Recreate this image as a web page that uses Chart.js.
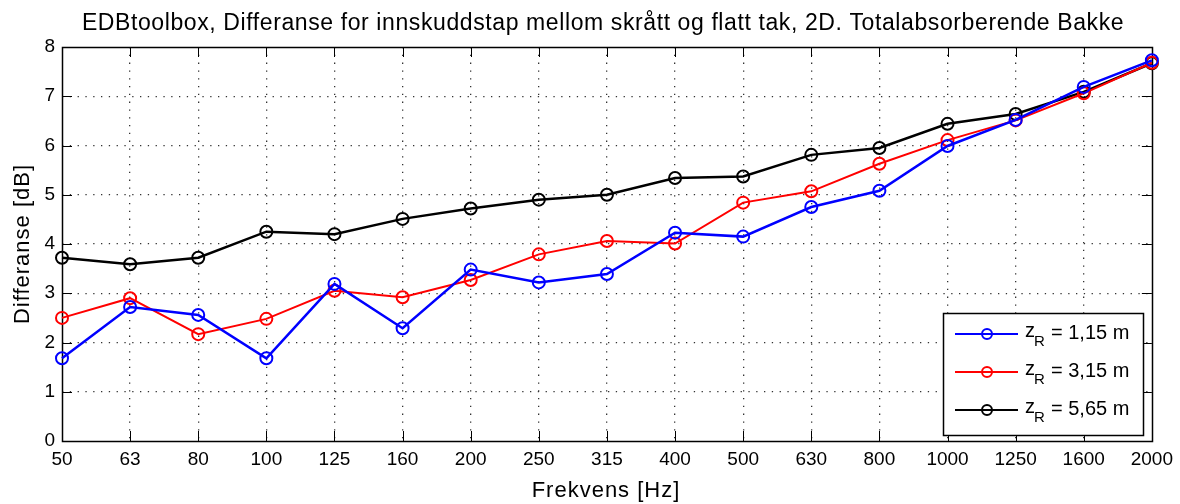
<!DOCTYPE html>
<html>
<head>
<meta charset="utf-8">
<script src="https://cdn.jsdelivr.net/npm/chart.js@4"></script>
<style>
  body { margin: 0; background: #fff; }
  #wrap { width: 1180px; height: 504px; }
</style>
</head>
<body>
<div id="wrap"><canvas id="chart" width="1180" height="504"></canvas></div>
<script>
// Data
const freqLabels = ['50', '63', '80', '100', '125', '160', '200', '250', '315', '400', '500', '630', '800', '1000', '1250', '1600', '2000'];
const zR115 = [1.68, 2.72, 2.56, 1.68, 3.19, 2.29, 3.48, 3.22, 3.39, 4.23, 4.15, 4.75, 5.08, 5.99, 6.52, 7.19, 7.73];
const zR315 = [2.50, 2.90, 2.17, 2.48, 3.05, 2.92, 3.27, 3.79, 4.06, 4.01, 4.84, 5.07, 5.63, 6.11, 6.51, 7.06, 7.68];
const zR565 = [3.72, 3.59, 3.72, 4.25, 4.20, 4.51, 4.72, 4.90, 5.00, 5.34, 5.37, 5.81, 5.95, 6.44, 6.64, 7.09, 7.67];
const seriesNames = ['1,15', '3,15', '5,65'];
const seriesColors = ['#0000ff', '#ff0000', '#000000'];
const seriesWidths = [2.5, 2, 2.5];
const yTicks = [0, 1, 2, 3, 4, 5, 6, 7, 8];

const FONT = '"Liberation Sans", Arial, sans-serif';

function makeSet(data, i) {
    return {
        label: seriesNames[i],
        data: data,
        borderColor: seriesColors[i],
        backgroundColor: 'rgba(0,0,0,0)',
        borderWidth: seriesWidths[i],
        pointRadius: 6,
        pointBorderWidth: 2,
        pointStyle: 'circle',
        pointBackgroundColor: 'rgba(0,0,0,0)',
        tension: 0
    };
}

// box, inward ticks, title, axis labels, legend
const matlabFrame = {
    id: 'matlabFrame',
    beforeDatasetsDraw(chart) {
        const { ctx, chartArea: a, scales: { x, y } } = chart;
        ctx.save();
        ctx.strokeStyle = '#000';
        ctx.lineWidth = 1;
        ctx.beginPath();
        const tl = 10;
        for (let i = 0; i < freqLabels.length; i++) {
            const px = Math.round(x.getPixelForValue(i)) + 0.5;
            ctx.moveTo(px, a.bottom); ctx.lineTo(px, a.bottom - tl);
            ctx.moveTo(px, a.top); ctx.lineTo(px, a.top + tl);
        }
        yTicks.forEach(v => {
            const py = Math.round(y.getPixelForValue(v)) + 0.5;
            ctx.moveTo(a.left, py); ctx.lineTo(a.left + tl, py);
            ctx.moveTo(a.right, py); ctx.lineTo(a.right - tl, py);
        });
        ctx.stroke();
        ctx.lineWidth = 1.5;
        ctx.strokeRect(Math.round(a.left) + 0.5, Math.round(a.top) + 0.5,
            Math.round(a.right - a.left), Math.round(a.bottom - a.top));
        ctx.restore();
    },
    afterDraw(chart) {
        const { ctx, chartArea: a } = chart;
        ctx.save();
        ctx.fillStyle = '#000';
        ctx.textAlign = 'center';
        ctx.textBaseline = 'alphabetic';
        ctx.font = '23px ' + FONT;
        ctx.letterSpacing = '0.6px';
        ctx.fillText('EDBtoolbox, Differanse for innskuddstap mellom skrått og flatt tak, 2D. Totalabsorberende Bakke', 603, 30);
        ctx.font = '22px ' + FONT;
        ctx.letterSpacing = '1px';
        ctx.fillText('Frekvens [Hz]', 606, 497);
        ctx.translate(29, (a.top + a.bottom) / 2);
        ctx.rotate(-Math.PI / 2);
        ctx.fillText('Differanse [dB]', 0, 0);
        ctx.restore();

        // legend box inside the plot
        ctx.save();
        const lx = 943, ly = 313, lw = 200, lh = 122;
        ctx.fillStyle = '#fff';
        ctx.fillRect(lx, ly, lw, lh);
        ctx.strokeStyle = '#000';
        ctx.lineWidth = 1.5;
        ctx.strokeRect(lx + 0.5, ly + 0.5, lw, lh);
        chart.data.datasets.forEach((ds, i) => {
            const ry = ly + 21 + i * 38;
            ctx.strokeStyle = ds.borderColor;
            ctx.lineWidth = 2;
            ctx.beginPath();
            ctx.moveTo(lx + 12, ry); ctx.lineTo(lx + 75, ry);
            ctx.stroke();
            ctx.beginPath();
            ctx.arc(lx + 44, ry, 5, 0, Math.PI * 2);
            ctx.stroke();
            ctx.fillStyle = '#000';
            ctx.textAlign = 'left';
            ctx.textBaseline = 'middle';
            ctx.font = '20px ' + FONT;
            ctx.fillText('z', lx + 82, ry - 3);
            ctx.font = '15px ' + FONT;
            ctx.fillText('R', lx + 91, ry + 8);
            ctx.font = '20px ' + FONT;
            ctx.fillText('= ' + ds.label + ' m', lx + 108, ry - 1);
        });
        ctx.restore();
    }
};

new Chart(document.getElementById('chart'), {
    type: 'line',
    data: {
        labels: freqLabels,
        datasets: [makeSet(zR115, 0), makeSet(zR315, 1), makeSet(zR565, 2)]
    },
    plugins: [matlabFrame],
    options: {
        responsive: false,
        animation: false,
        layout: { padding: { top: 47, right: 28, left: 0, bottom: 0 } },
        plugins: {
            legend: { display: false },
            title: { display: false },
            tooltip: { enabled: false }
        },
        scales: {
            x: {
                type: 'category',
                offset: false,
                afterFit: (s) => { s.height = 63; },
                grid: {
                    color: (c) => (c.index === 0 || c.index === freqLabels.length - 1) ? 'rgba(0,0,0,0)' : '#333',
                    lineWidth: 1.3,
                    drawTicks: false
                },
                border: { display: false, dash: [1.3, 6.5] },
                ticks: {
                    color: '#000',
                    font: { family: FONT, size: 19 },
                    padding: 7,
                    maxRotation: 0,
                    autoSkip: false
                }
            },
            y: {
                min: 0,
                max: 8,
                afterFit: (s) => { s.width = 62; },
                afterBuildTicks: (s) => { s.ticks = yTicks.map(v => ({ value: v })); },
                grid: {
                    color: (c) => (c.tick && (c.tick.value === 0 || c.tick.value === 8)) ? 'rgba(0,0,0,0)' : '#333',
                    lineWidth: 1.3,
                    drawTicks: false
                },
                border: { display: false, dash: [1.3, 6.5] },
                ticks: {
                    color: '#000',
                    font: { family: FONT, size: 19 },
                    padding: 7
                }
            }
        }
    }
});
</script>
</body>
</html>
